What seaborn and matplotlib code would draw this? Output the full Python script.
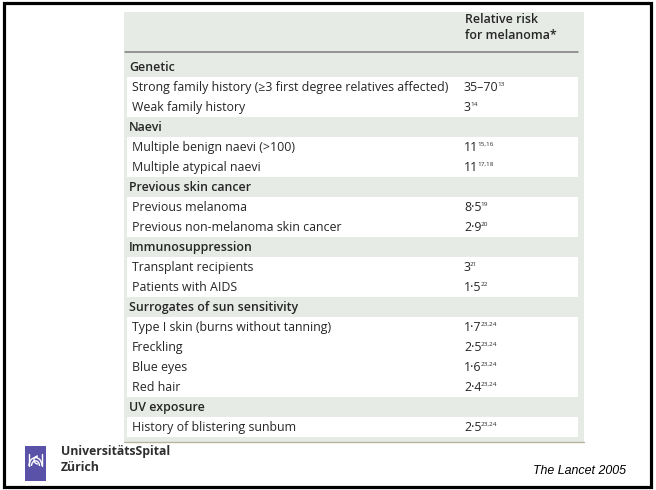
import numpy as np
import matplotlib.pyplot as plt
import seaborn as sns
from matplotlib.colors import ListedColormap
from matplotlib.patches import Rectangle, Arc

# table content
sections = ["Genetic", "Naevi", "Previous skin cancer", "Immunosuppression",
            "Surrogates of sun sensitivity", "UV exposure"]
factors = [
    ["Strong family history (\u22653 first degree relatives affected)", "Weak family history"],
    ["Multiple benign naevi (>100)", "Multiple atypical naevi"],
    ["Previous melanoma", "Previous non-melanoma skin cancer"],
    ["Transplant recipients", "Patients with AIDS"],
    ["Type I skin (burns without tanning)", "Freckling", "Blue eyes", "Red hair"],
    ["History of blistering sunbum"],
]
risks = [
    ["35\u201370", "3"],
    ["11", "11"],
    ["8\u00b75", "2\u00b79"],
    ["3", "1\u00b75"],
    ["1\u00b77", "2\u00b75", "1\u00b76", "2\u00b74"],
    ["2\u00b75"],
]
refs = [
    ["13", "14"],
    ["15,16", "17,18"],
    ["19", "20"],
    ["21", "22"],
    ["23,24", "23,24", "23,24", "23,24"],
    ["23,24"],
]
col_header = "Relative risk\nfor melanoma*"
source = "The Lancet 2005"

BG = "#e6ebe5"
INK = "#262626"
FS = 8.9

# flatten into rows: (label, is_item, risk, ref)
rows = []
for sec, fs, rs, refl in zip(sections, factors, risks, refs):
    rows.append((sec, 0, "", ""))
    for f, r, s in zip(fs, rs, refl):
        rows.append((f, 1, r, s))

sns.set_theme(style="white")
plt.rcParams['font.family'] = ['Open Sans', 'DejaVu Sans']

W, H = 656, 490
fig = plt.figure(figsize=(W / 100, H / 100), dpi=100)
page = fig.add_axes([0, 0, 1, 1])
page.set_xlim(0, W)
page.set_ylim(H, 0)
page.axis('off')

# slide frame and table background
page.add_patch(Rectangle((3.5, 3.5), 647, 483, fc='none', ec='black', lw=2.3))
page.add_patch(Rectangle((124, 12), 460, 430, fc=BG, ec='none'))
page.plot([125, 578], [52.5, 52.5], color='#7a7a7a', lw=1.1)
page.plot([124, 584], [442, 442], color='#b8b39c', lw=1.0)
page.text(465, 13, col_header, ha='left', va='top', fontsize=FS,
          fontweight='semibold', color=INK, linespacing=1.3)

# rows drawn as a one-column heatmap (section rows shaded, factor rows white)
hm = fig.add_axes([127 / W, 1 - 437 / H, 451 / W, 380 / H])
kind = np.array([[r[1]] for r in rows])
sns.heatmap(kind, ax=hm, cmap=ListedColormap([BG, 'white']), vmin=0, vmax=1,
            cbar=False, xticklabels=False, yticklabels=False)
hm.axis('off')

for i, (label, is_item, risk, ref) in enumerate(rows):
    y = i + 0.5
    if not is_item:
        hm.text(0.005, y, label, ha='left', va='center', fontsize=FS,
                fontweight='semibold', color=INK)
        continue
    hm.text(0.011, y, label, ha='left', va='center', fontsize=FS, color=INK)
    t = hm.text(0.747, y, risk, ha='left', va='center', fontsize=FS, color=INK)
    hm.annotate(ref, xy=(1, 1), xycoords=t, xytext=(-0.6, -1.0),
                textcoords='offset points', ha='left', va='top',
                fontsize=4.6, color=INK)

# hospital logo and name
page.add_patch(Rectangle((25, 446), 21, 35, fc='#5a51a8', ec='none'))
for r in [4, 6.5]:
    page.add_patch(Arc((35.5, 466), 2 * r, 2 * r * 1.3, theta1=180, theta2=360,
                       color='white', lw=1.0))
page.plot([29.0, 29.0], [454, 466], color='white', lw=1.0)
page.plot([42.0, 42.0], [454, 466], color='white', lw=1.0)
page.add_patch(Arc((38, 460), 8, 8, theta1=90, theta2=270, color='white', lw=1.0))
page.text(61, 451, "Universit\u00e4tsSpital", ha='left', va='center',
          fontsize=8.8, fontweight='bold', color='#2e2e2e')
page.text(61, 467, "Z\u00fcrich", ha='left', va='center',
          fontsize=8.8, fontweight='bold', color='#2e2e2e')

page.text(626, 471, source, ha='right', va='center', fontsize=8.9,
          style='italic', family=['Liberation Sans', 'DejaVu Sans'], color='black')

fig.savefig('out.png', dpi=100)
